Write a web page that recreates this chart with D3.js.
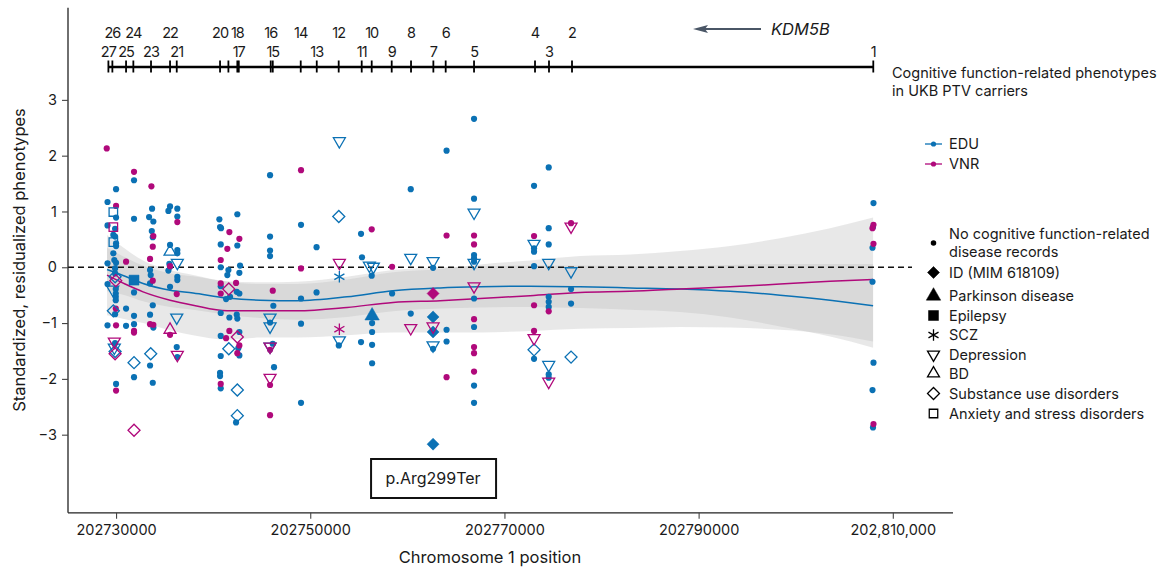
<!DOCTYPE html>
<meta charset="utf-8">
<script src="https://d3js.org/d3.v7.min.js"></script>
<head>
<style>
  body { margin: 0; background: #fff; font-family: Inter, Roboto, "Noto Sans", Arial, sans-serif; }
  text { fill: #1a1a1a; }
</style>
</head>
<body>
<div id="viz"></div>
<script>
// ---- data ----
const xTicks = [202730000, 202750000, 202770000, 202790000, 202810000];
const xTickLabels = ["202730000", "202750000", "202770000", "202790000", "202,810,000"];
const yTicks = [-3, -2, -1, 0, 1, 2, 3];

// exon positions of KDM5B (exon 27 ... exon 1)
const exonNum = [27, 26, 25, 24, 23, 22, 21, 20, 19, 18, 17, 16, 15, 14, 13, 12, 11, 10, 9, 8, 7, 6, 5, 4, 3, 2, 1];
const exonPos = [202729210, 202729620, 202731030, 202731780, 202733600, 202735560, 202736250, 202740710,
  202741570, 202742490, 202742640, 202745930, 202746140, 202749020, 202750670, 202752930, 202755300,
  202756330, 202758390, 202760380, 202762680, 202763950, 202766870, 202773150, 202774590, 202776960, 202807990];

// loess fits with confidence half-widths
const fitPos = [202729070, 202730930, 202732780, 202735560, 202737930, 202741430, 202744830, 202748640,
  202753790, 202758530, 202763370, 202767490, 202772640, 202777790, 202782940, 202788090, 202793240,
  202798390, 202803540, 202807970];
const eduFit = [-0.04, -0.16, -0.29, -0.41, -0.46, -0.55, -0.59, -0.60, -0.53, -0.42, -0.37, -0.35, -0.34, -0.35, -0.37, -0.39, -0.43, -0.50, -0.59, -0.69];
const eduHalf = [0.39, 0.34, 0.32, 0.30, 0.30, 0.30, 0.32, 0.34, 0.36, 0.37, 0.37, 0.37, 0.37, 0.38, 0.39, 0.41, 0.47, 0.56, 0.65, 0.75];
const vnrFit = [-0.14, -0.30, -0.44, -0.59, -0.68, -0.78, -0.78, -0.78, -0.72, -0.63, -0.60, -0.56, -0.51, -0.45, -0.43, -0.39, -0.35, -0.30, -0.25, -0.22];
const vnrHalf = [0.72, 0.63, 0.56, 0.54, 0.54, 0.52, 0.48, 0.48, 0.50, 0.54, 0.57, 0.61, 0.63, 0.65, 0.66, 0.68, 0.73, 0.82, 0.95, 1.11];

// carriers: [position, standardized value, disease record]
const eduPoints = [
  [202729120, 1.17, "dot"], [202729120, 0.75, "dot"], [202729120, 0.07, "dot"], [202729120, -0.30, "dot"], [202729120, -1.04, "dot"],
  [202729720, 0.99, "anx"], [202729720, 0.45, "anx"],
  [202730000, 1.40, "dot"], [202730000, 0.89, "dot"], [202729900, 0.69, "dot"], [202729720, 0.58, "dot"], [202729900, 0.55, "dot"],
  [202730000, 0.43, "dot"], [202730000, 0.38, "dot"], [202729720, 0.25, "dot"], [202729820, 0.13, "dot"], [202730000, 0.08, "dot"],
  [202729900, -0.02, "dot"], [202729900, -0.11, "dot"], [202729970, -0.39, "dot"], [202729970, -0.47, "dot"], [202729970, -0.53, "dot"],
  [202729970, -0.59, "dot"], [202729900, -0.84, "dot"], [202729900, -1.36, "dot"], [202730000, -2.09, "dot"],
  [202729900, -0.17, "sud"], [202729660, -0.40, "dep"], [202729720, -0.78, "sud"], [202729820, -1.44, "dep"], [202729900, -1.51, "sud"],
  [202731030, -0.74, "dot"], [202731030, -1.05, "dot"],
  [202731850, 1.56, "dot"], [202731850, 0.87, "dot"], [202731850, -0.45, "dot"], [202731850, -0.87, "dot"], [202731850, -1.02, "dot"],
  [202731850, -1.97, "dot"], [202731850, -0.23, "epi"], [202731850, -1.71, "sud"],
  [202733710, 1.05, "dot"], [202733400, 0.90, "dot"], [202733840, 0.82, "dot"], [202733680, 0.65, "dot"], [202733780, 0.54, "dot"],
  [202733500, -0.05, "dot"], [202733570, -0.14, "dot"], [202733500, -0.29, "dot"], [202733780, -0.68, "dot"], [202733500, -0.85, "dot"],
  [202733840, -1.08, "dot"], [202733500, -1.76, "dot"], [202733780, -2.07, "dot"], [202733570, -1.55, "sud"],
  [202735560, 1.09, "dot"], [202735390, 1.01, "dot"], [202735560, 0.40, "dot"], [202735490, 0.06, "dot"], [202735560, 0.01, "dot"],
  [202735390, -0.06, "dot"], [202735560, -0.35, "dot"], [202735560, 0.28, "bd"],
  [202736310, 1.05, "dot"], [202736310, 0.91, "dot"], [202736310, 0.31, "dot"], [202736310, 0.25, "dot"], [202736310, -0.17, "dot"],
  [202736310, -0.23, "dot"], [202736250, -1.43, "dot"], [202736310, -1.61, "dot"], [202736310, 0.08, "dep"], [202736250, -0.90, "dep"],
  [202740640, 0.86, "dot"], [202740710, 0.72, "dot"], [202740810, 0.70, "dot"], [202740780, 0.41, "dot"], [202740780, 0.00, "dot"],
  [202740780, -0.34, "dot"], [202740780, -0.82, "dot"], [202740780, -1.23, "dot"], [202740780, -1.59, "dot"], [202740710, -1.89, "dot"],
  [202740710, -1.95, "dot"], [202740780, -2.17, "dot"],
  [202741570, -0.05, "dot"], [202741460, -0.14, "dot"], [202741330, -0.57, "dot"], [202741740, -0.53, "dot"], [202741670, -0.90, "dot"],
  [202741610, -1.46, "sud"],
  [202742490, 0.95, "dot"], [202742490, 0.39, "dot"], [202742770, 0.03, "dot"], [202742700, -0.10, "dot"], [202742430, -0.44, "dot"],
  [202742700, -0.47, "dot"], [202742430, -0.85, "dot"], [202742490, -0.92, "dot"], [202742700, -1.16, "dot"], [202742590, -1.45, "dot"],
  [202742700, -1.58, "dot"], [202742360, -2.78, "dot"], [202742490, -2.20, "sud"], [202742490, -2.66, "sud"],
  [202745860, 1.65, "dot"], [202745860, 0.55, "dot"], [202745860, 0.30, "dot"], [202745860, 0.20, "dot"], [202746200, -0.69, "dot"],
  [202745860, -0.99, "dot"], [202746140, -1.37, "dot"], [202746270, -1.79, "dot"], [202745860, -0.90, "dep"], [202745860, -1.06, "dep"],
  [202745860, -1.42, "dep"],
  [202749050, 0.76, "dot"], [202749050, -0.56, "dot"], [202749050, -1.01, "dot"], [202749050, -2.43, "dot"],
  [202750650, 0.36, "dot"], [202750650, -0.45, "dot"],
  [202753000, 2.26, "dep"], [202752940, 0.91, "sud"], [202753000, -0.17, "scz"], [202753000, -1.31, "dep"], [202752940, -1.40, "dot"],
  [202755230, 0.60, "dot"], [202755330, 0.18, "dot"], [202755230, -1.34, "dot"],
  [202756090, 0.03, "dep"], [202756500, 0.01, "dep"], [202756330, -0.15, "dot"], [202756370, -0.87, "pd"], [202756370, -1.00, "dot"],
  [202756370, -1.16, "dot"], [202756370, -1.39, "dot"], [202756370, -1.72, "dot"],
  [202758430, -0.47, "dot"],
  [202760350, 1.40, "dot"], [202760350, 0.17, "dep"], [202760350, -0.83, "dot"],
  [202762650, 0.11, "dep"], [202762650, -0.01, "dot"], [202762650, -0.89, "id"], [202762650, -1.16, "id"], [202762650, -1.40, "dep"],
  [202762650, -1.46, "dot"], [202762650, -3.17, "id"],
  [202764040, 2.09, "dot"], [202764040, -1.12, "dot"], [202764040, -1.33, "dot"],
  [202766870, 2.66, "dot"], [202766870, 1.23, "dot"], [202766870, 0.98, "dep"], [202766870, 0.22, "dot"], [202766870, 0.16, "dot"],
  [202766870, 0.10, "dot"], [202766870, 0.08, "dep"], [202766870, -0.56, "dot"], [202766870, -1.07, "dot"], [202766870, -2.12, "dot"],
  [202766870, -2.43, "dot"],
  [202773050, 1.46, "dot"], [202773050, 0.42, "dep"], [202773050, 0.34, "dot"], [202773050, 0.28, "dot"], [202773050, 0.02, "dot"],
  [202773050, -1.48, "sud"], [202773050, -1.64, "dot"],
  [202774560, 1.79, "dot"], [202774560, 0.70, "dot"], [202774560, 0.41, "dot"], [202774560, 0.08, "dep"], [202774560, -0.53, "dot"],
  [202774560, -0.62, "dot"], [202774560, -0.71, "dot"], [202774560, -1.75, "dep"], [202774560, -1.92, "dot"], [202774560, -1.98, "dot"],
  [202776860, -0.07, "dep"], [202776860, -0.39, "dot"], [202776860, -0.65, "dot"], [202776860, -1.61, "sud"],
  [202808010, 1.15, "dot"], [202807960, 0.72, "dot"], [202807910, 0.35, "dot"], [202807910, -0.26, "dot"], [202808010, -1.71, "dot"],
  [202807910, -2.20, "dot"], [202807960, -2.87, "dot"]
];

const vnrPoints = [
  [202729040, 2.13, "dot"], [202730000, 1.10, "dot"], [202729720, 0.72, "anx"], [202729970, -0.24, "sud"], [202729970, -0.74, "dot"],
  [202730000, -1.04, "dot"], [202729820, -1.33, "dep"], [202729900, -1.55, "sud"], [202730000, -2.21, "dot"],
  [202731030, 0.10, "dot"],
  [202731850, 1.71, "dot"], [202731850, -1.14, "dot"], [202731850, -1.17, "dot"], [202731850, -2.92, "sud"],
  [202733640, 1.45, "dot"], [202733840, 0.56, "dot"], [202733780, 0.37, "dot"], [202733500, 0.15, "dot"], [202733780, -0.24, "dot"],
  [202733500, -1.02, "dot"], [202733840, -1.03, "dot"],
  [202735560, 0.02, "dot"], [202735560, -1.12, "bd"], [202735560, -1.21, "dot"],
  [202736310, 0.81, "dot"], [202736250, -0.48, "dot"], [202736310, -1.57, "dep"],
  [202740780, 0.13, "dot"], [202740780, -0.29, "dot"], [202740780, -0.47, "dot"], [202740780, -2.09, "dot"],
  [202741670, 0.63, "dot"], [202741460, 0.33, "dot"], [202741330, -1.27, "dot"], [202741670, -1.14, "dot"], [202741610, -0.39, "sud"],
  [202742700, 0.51, "dot"], [202742360, -0.28, "dot"], [202742700, -1.40, "dot"], [202742490, -1.54, "dot"], [202742490, -1.25, "sud"],
  [202746140, -0.42, "dot"], [202745860, -1.48, "dot"], [202745860, -2.11, "dot"], [202745860, -2.65, "dot"], [202745860, -1.42, "dep"],
  [202745860, -1.98, "dep"],
  [202749050, 1.74, "dot"], [202749050, -0.02, "dot"],
  [202753000, 0.08, "dep"], [202753000, -1.11, "scz"],
  [202756330, 0.68, "dot"],
  [202758430, 0.01, "dot"],
  [202760350, -1.09, "dep"],
  [202762650, -0.47, "id"], [202762650, -1.06, "dep"],
  [202764040, 0.57, "dot"], [202764040, -1.97, "dot"],
  [202766870, 0.57, "dot"], [202766870, 0.41, "dot"], [202766870, -0.34, "dep"], [202766870, -0.93, "dot"], [202766870, -1.43, "dot"],
  [202766870, -1.54, "dot"], [202766870, -1.87, "dot"],
  [202773050, 0.56, "dot"], [202773050, -0.68, "dot"], [202773050, -1.14, "dot"], [202773050, -1.27, "dep"],
  [202774560, -0.79, "dot"], [202774560, -2.05, "dep"],
  [202776860, 0.79, "dot"], [202776860, 0.73, "dep"],
  [202808010, 0.76, "dot"], [202807910, 0.70, "dot"], [202808010, 0.42, "dot"], [202808010, -2.81, "dot"]
];

const traits = ["EDU", "VNR"];
const shapeKeys = ["dot", "id", "pd", "epi", "scz", "dep", "bd", "sud", "anx"];
const shapeNames = ["No cognitive function-related\ndisease records", "ID (MIM 618109)", "Parkinson disease", "Epilepsy",
  "SCZ", "Depression", "BD", "Substance use disorders", "Anxiety and stress disorders"];
const exonLabelSkip = [19];

// ---- drawing ----
const W = 1162, H = 568;
const blue = "#0b71b4", magenta = "#b0097b";
const color = d3.scaleOrdinal().domain(traits).range([blue, magenta]);
const FONT = "Inter, Roboto, 'Noto Sans', sans-serif";

const svg = d3.select("#viz").append("svg")
  .attr("width", W).attr("height", H)
  .style("font-family", FONT);

const x = d3.scaleLinear().domain([202725050, 202816200]).range([68, 953]);
const y = d3.scaleLinear().domain([-4.4, 4.65]).range([512.8, 7.8]);

// symbols
const sym = {
  dot:  {type: d3.symbolCircle,   size: 30,  fill: true,  rot: 0},
  id:   {type: d3.symbolSquare,   size: 72,  fill: true,  rot: 45},
  pd:   {type: d3.symbolTriangle, size: 90,  fill: true,  rot: 0},
  epi:  {type: d3.symbolSquare,   size: 100, fill: true,  rot: 0},
  scz:  {type: d3.symbolAsterisk, size: 95,  fill: false, rot: 0},
  dep:  {type: d3.symbolTriangle, size: 62,  fill: false, rot: 180},
  bd:   {type: d3.symbolTriangle, size: 62,  fill: false, rot: 0},
  sud:  {type: d3.symbolSquare,   size: 72,  fill: false, rot: 45},
  anx:  {type: d3.symbolSquare,   size: 72,  fill: false, rot: 0}
};
function drawSymbol(g, key, col, cx, cy, scale) {
  const s = sym[key];
  g.append("path")
    .attr("d", d3.symbol().type(s.type).size(s.size * (scale || 1))())
    .attr("transform", `translate(${cx},${cy}) rotate(${s.rot})`)
    .attr("fill", s.fill ? col : "none")
    .attr("stroke", col)
    .attr("stroke-width", s.fill ? (key === "dot" ? 0 : 0.5) : 1.3);
}

// confidence bands
const band = d3.area().curve(d3.curveMonotoneX)
  .x(d => x(d.p)).y0(d => y(d.f - d.h)).y1(d => y(d.f + d.h));
const line = d3.line().curve(d3.curveMonotoneX).x(d => x(d.p)).y(d => y(d.f));
const fits = {
  EDU: fitPos.map((p, i) => ({p: p, f: eduFit[i], h: eduHalf[i]})),
  VNR: fitPos.map((p, i) => ({p: p, f: vnrFit[i], h: vnrHalf[i]}))
};
traits.forEach(t => {
  svg.append("path").datum(fits[t]).attr("d", band)
    .attr("fill", "#bcbcbc").attr("opacity", 0.34);
});

// zero line
svg.append("line")
  .attr("x1", x.range()[0]).attr("x2", 912)
  .attr("y1", y(0)).attr("y2", y(0))
  .attr("stroke", "#111").attr("stroke-width", 1.4).attr("stroke-dasharray", "6,4");

traits.forEach(t => {
  svg.append("path").datum(fits[t]).attr("d", line)
    .attr("fill", "none").attr("stroke", color(t)).attr("stroke-width", 1.5);
});

// points (dots first, disease symbols on top)
const pts = [];
eduPoints.forEach(d => pts.push({p: d[0], v: d[1], s: d[2], t: "EDU"}));
vnrPoints.forEach(d => pts.push({p: d[0], v: d[1], s: d[2], t: "VNR"}));
const ptG = svg.append("g");
pts.filter(d => d.s === "dot").forEach(d => drawSymbol(ptG, d.s, color(d.t), x(d.p), y(d.v)));
pts.filter(d => d.s !== "dot").forEach(d => drawSymbol(ptG, d.s, color(d.t), x(d.p), y(d.v)));

// axes
const yAxis = svg.append("g").attr("transform", `translate(${x.range()[0]},0)`)
  .call(d3.axisLeft(y).tickValues(yTicks).tickSize(6).tickPadding(5)
    .tickFormat(d => d < 0 ? "\u2212" + Math.abs(d) : d));
const xAxis = svg.append("g").attr("transform", `translate(0,${y.range()[0]})`)
  .call(d3.axisBottom(x).tickValues(xTicks).tickSize(6).tickPadding(6)
    .tickFormat((d, i) => xTickLabels[i]));
[xAxis, yAxis].forEach(a => {
  a.attr("font-family", FONT);
  a.select(".domain").attr("stroke", "#222").attr("stroke-width", 1.3);
  a.selectAll(".tick line").attr("stroke", "#444").attr("stroke-width", 1.1);
  a.selectAll(".tick text").attr("fill", "#1a1a1a").style("font-size", "14.5px");
});
xAxis.select(".domain").attr("d", `M${x.range()[0]},0H${x.range()[1]}`);
yAxis.select(".domain").attr("d", `M0,${y.range()[0]}V${y.range()[1]}`);

svg.append("text").attr("x", 490).attr("y", 563).attr("text-anchor", "middle")
  .style("font-size", "16.5px").text("Chromosome 1 position");
svg.append("text").attr("transform", `translate(25,${260}) rotate(-90)`).attr("text-anchor", "middle")
  .style("font-size", "16.5px").text("Standardized, residualized phenotypes");

// gene model at the top
const geneY = 67;
const gene = svg.append("g");
gene.append("line").attr("x1", x(d3.min(exonPos))).attr("x2", x(d3.max(exonPos)))
  .attr("y1", geneY).attr("y2", geneY).attr("stroke", "#000").attr("stroke-width", 2.4);
gene.selectAll(".ex").data(exonPos).join("line")
  .attr("x1", d => x(d)).attr("x2", d => x(d))
  .attr("y1", geneY - 6.5).attr("y2", geneY + 5.5)
  .attr("stroke", "#000").attr("stroke-width", 1.8);
gene.selectAll(".exl").data(exonNum.filter(n => !exonLabelSkip.includes(n))).join("text")
  .attr("x", n => x(exonPos[exonNum.indexOf(n)]))
  .attr("y", n => n % 2 === 0 ? 37.5 : 57)
  .attr("text-anchor", "middle").style("font-size", "14.5px").style("letter-spacing", "-1px")
  .text(n => n);

// gene direction arrow
const arrowCol = "#4a5666";
svg.append("line").attr("x1", 761).attr("x2", 702).attr("y1", 29).attr("y2", 29)
  .attr("stroke", arrowCol).attr("stroke-width", 2);
svg.append("path").attr("d", "M693,29L708,25L705,29L708,33Z").attr("fill", arrowCol);
svg.append("text").attr("x", 771).attr("y", 35).style("font-size", "16.5px").style("font-style", "italic")
  .text("KDM5B");

// variant label box
const varPt = eduPoints.find(d => d[2] === "id" && d[1] < -3);
const bx = x(varPt[0]);
svg.append("rect").attr("x", bx - 62).attr("y", 459).attr("width", 125).attr("height", 39)
  .attr("fill", "#fff").attr("stroke", "#111").attr("stroke-width", 2);
svg.append("text").attr("x", bx).attr("y", 484).attr("text-anchor", "middle")
  .style("font-size", "16px").text("p.Arg299Ter");

// legends
const lg = svg.append("g").attr("transform", "translate(892,0)");
lg.append("text").attr("x", 0).attr("y", 78).style("font-size", "14.5px").text("Cognitive function-related phenotypes");
lg.append("text").attr("x", 0).attr("y", 96).style("font-size", "14.5px").text("in UKB PTV carriers");
traits.forEach((t, i) => {
  const cy = 144 + i * 20;
  lg.append("line").attr("x1", 33).attr("x2", 50).attr("y1", cy).attr("y2", cy)
    .attr("stroke", color(t)).attr("stroke-width", 1.3);
  lg.append("circle").attr("cx", 41.5).attr("cy", cy).attr("r", 2.6).attr("fill", color(t));
  lg.append("text").attr("x", 57).attr("y", cy + 5).style("font-size", "14.5px").text(t);
});
const legY = [243, 272.5, 296, 315.5, 335, 354.5, 373.5, 393.5, 413.5];
shapeKeys.forEach((k, i) => {
  drawSymbol(lg, k, "#000", 41.5, legY[i], k === "dot" ? 0.8 : 1);
  const lines = shapeNames[i].split("\n");
  lines.forEach((ln, j) => {
    lg.append("text").attr("x", 57)
      .attr("y", legY[i] + 5 + (j - (lines.length - 1) / 2) * 17.5)
      .style("font-size", "14.5px").text(ln);
  });
});
</script>
</body>
